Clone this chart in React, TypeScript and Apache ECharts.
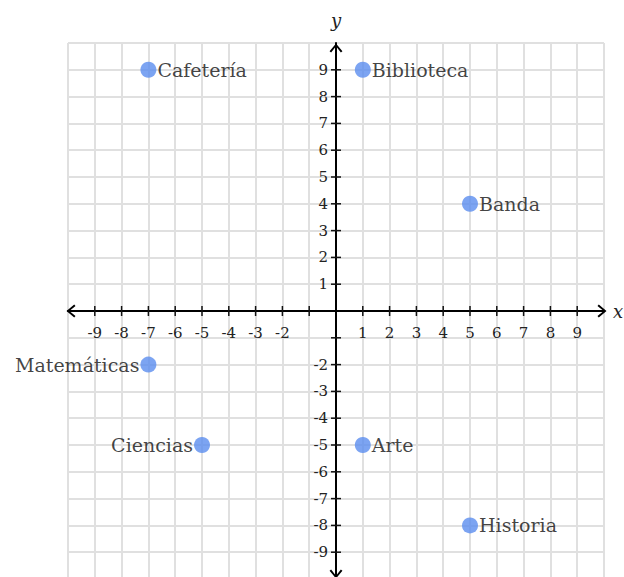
import React, { useEffect, useRef } from "react";
import * as echarts from "echarts";

// Places on the coordinate plane
const placeNames = ["Cafetería", "Biblioteca", "Banda", "Matemáticas", "Ciencias", "Arte", "Historia"];
const placeX = [-7, 1, 5, -7, -5, 1, 5];
const placeY = [9, 9, 4, -2, -5, -5, -8];
const labelSide = ["right", "right", "right", "left", "left", "right", "right"];

// Axis range, the tick marks (small crosses) and which of them carry a number
const axisMin = -10;
const axisMax = 10;
const tickValues = [-9, -8, -7, -6, -5, -4, -3, -2, -1, 1, 2, 3, 4, 5, 6, 7, 8, 9];
const labeledTicks = [-9, -8, -7, -6, -5, -4, -3, -2, 1, 2, 3, 4, 5, 6, 7, 8, 9];

const SERIF = "'DejaVu Serif', 'Liberation Serif', serif";
const chevron = "path://M0,60 L50,0 L100,60 L88,70 L50,22 L12,70 Z";

export default function App() {
  const ref = useRef<HTMLDivElement>(null);

  useEffect(() => {
    if (!ref.current) return;
    const chart = echarts.init(ref.current, null, { renderer: "svg" });

    // [value, 0] = tick on the x axis, [value, 1] = tick on the y axis
    const tickData = [
      ...tickValues.map((v) => [v, 0]),
      ...tickValues.map((v) => [v, 1]),
    ];

    const axisCommon = {
      type: "value" as const,
      min: axisMin,
      max: axisMax,
      interval: 1,
      axisTick: { show: false },
      axisLabel: { show: false },
      splitLine: { show: true, lineStyle: { color: "#e0e0e0", width: 2 } },
      axisLine: {
        show: true,
        onZero: true,
        symbol: [chevron, chevron],
        symbolSize: [15, 9],
        lineStyle: { color: "#000", width: 2 },
      },
    };

    chart.setOption({
      animation: false,
      backgroundColor: "#fff",
      grid: { left: 68, top: 43, width: 536, height: 536, outerBoundsMode: "none" },
      xAxis: {
        ...axisCommon,
        axisLine: { ...axisCommon.axisLine, symbolOffset: [3, -2] },
        name: "x",
        nameLocation: "end",
        nameGap: 9,
        nameTextStyle: { fontFamily: SERIF, fontStyle: "italic", fontSize: 18, color: "#222" },
      },
      yAxis: {
        ...axisCommon,
        axisLine: { ...axisCommon.axisLine, symbolOffset: [5, -5] },
        name: "y",
        nameLocation: "end",
        nameGap: 14,
        nameTextStyle: { fontFamily: SERIF, fontStyle: "italic", fontSize: 18, color: "#222" },
      },
      series: [
        {
          type: "custom",
          clip: false,
          silent: true,
          z: 5,
          data: tickData,
          renderItem: (_params: any, api: any) => {
            const v = api.value(0);
            const onY = api.value(1) === 1;
            const p = onY ? api.coord([0, v]) : api.coord([v, 0]);
            const h = 5;
            const children: any[] = [
              {
                type: "line",
                shape: onY
                  ? { x1: p[0] - h, y1: p[1], x2: p[0] + h, y2: p[1] }
                  : { x1: p[0], y1: p[1] - h, x2: p[0], y2: p[1] + h },
                style: { stroke: "#111", lineWidth: 1.5 },
              },
            ];
            if (labeledTicks.indexOf(v) >= 0) {
              children.push({
                type: "text",
                x: onY ? p[0] - 8 : p[0],
                y: onY ? p[1] : p[1] + 14,
                style: {
                  text: String(v),
                  fontFamily: SERIF,
                  fontSize: 15,
                  fill: "#222",
                  align: onY ? "right" : "center",
                  verticalAlign: onY ? "middle" : "top",
                },
              });
            }
            return { type: "group", children };
          },
        },
        {
          type: "scatter",
          z: 10,
          symbol: "circle",
          symbolSize: 16,
          itemStyle: { color: "#5B8DEF" },
          data: placeNames.map((name, i) => ({
            name,
            value: [placeX[i], placeY[i]],
            label: { position: labelSide[i] },
          })),
          label: {
            show: true,
            formatter: "{b}",
            distance: 1,
            fontFamily: SERIF,
            fontSize: 19,
            color: "#111",
          },
        },
      ],
    });

    return () => chart.dispose();
  }, []);

  return (
    <div
      ref={ref}
      style={{ position: "absolute", left: 0, top: 0, width: 624, height: 577 }}
    />
  );
}
